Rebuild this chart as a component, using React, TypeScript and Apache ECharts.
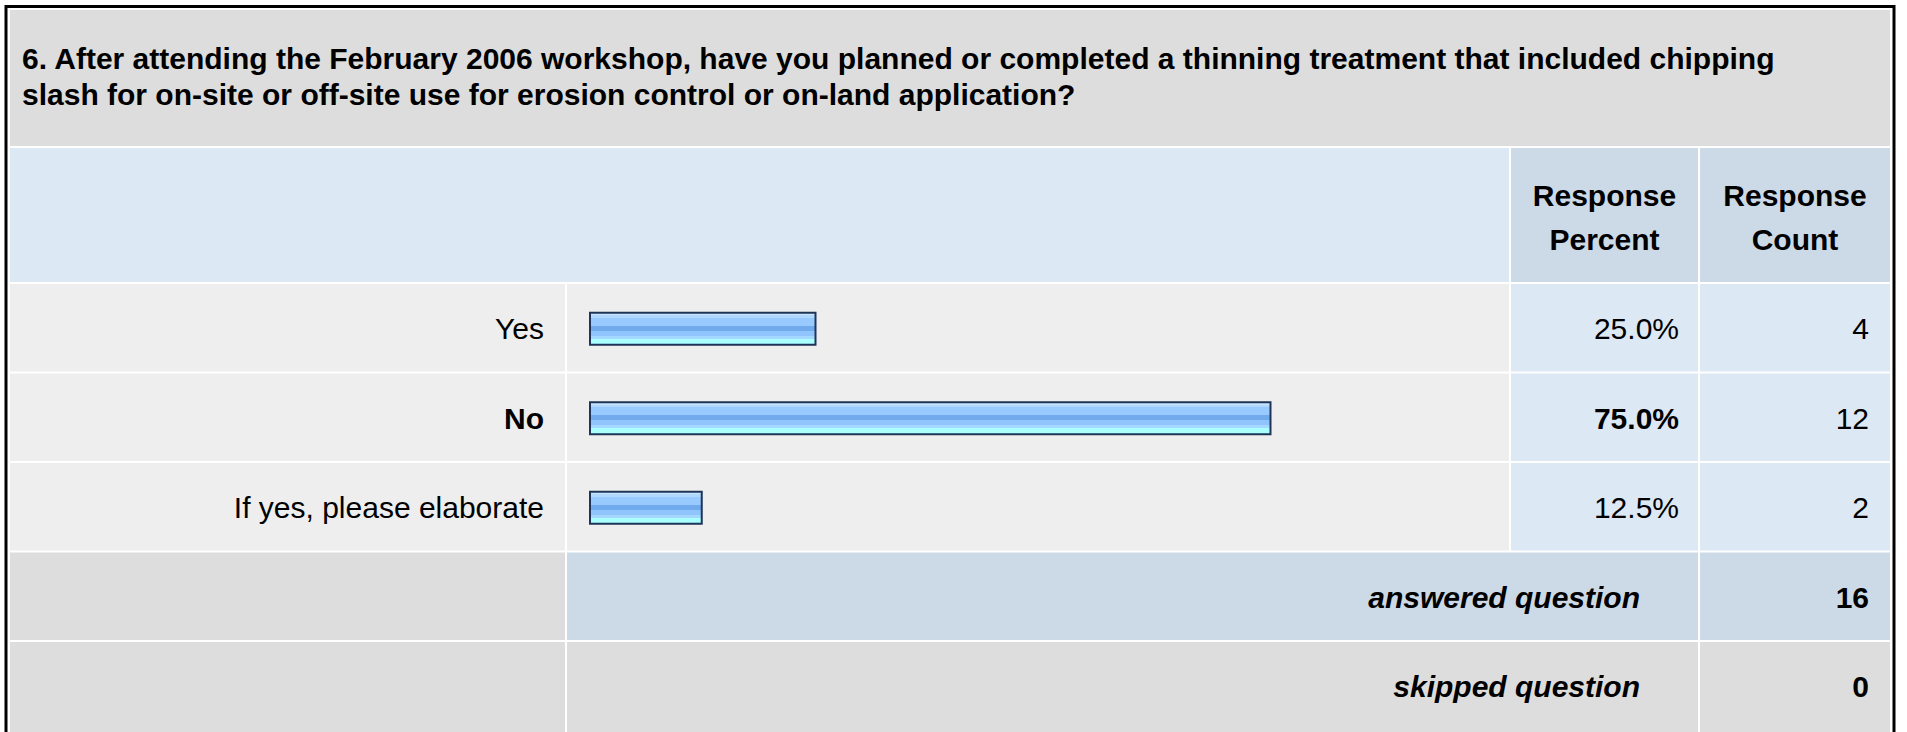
import React, { useEffect, useRef } from "react";
import * as echarts from "echarts";

const titleLines = [
  "6. After attending the February 2006 workshop, have you planned or completed a thinning treatment that included chipping",
  "slash for on-site or off-site use for erosion control or on-land application?",
];
const categories = ["Yes", "No", "If yes, please elaborate"];
const percents = [25.0, 75.0, 12.5];
const counts = [4, 12, 2];
const boldRow = 1;
const headerPercent = ["Response", "Percent"];
const headerCount = ["Response", "Count"];
const answeredLabel = "answered question";
const answeredCount = 16;
const skippedLabel = "skipped question";
const skippedCount = 0;

const W = 1907;
const H = 732;
const FONT = "Arial, 'Liberation Sans', sans-serif";
const FS = 30;

// layout (px)
const L = 10;
const R = 1890;
const colLabelEnd = 565;
const colBarStart = 567;
const colPctStart = 1511;
const colPctEnd = 1698;
const colCntStart = 1700;
const titleTop = 10;
const titleBottom = 146;
const headTop = 148;
const headBottom = 282;
const rowsTop = 284;
const rowH = 89.5;
const gap = 2;
const barX0 = 589;
const barX100 = 1499;

export default function App() {
  const ref = useRef<HTMLDivElement>(null);
  useEffect(() => {
    if (!ref.current) return;
    const chart = echarts.init(ref.current, undefined, { renderer: "svg" });
    const g: any[] = [];
    const rect = (x: number, y: number, w: number, h: number, fill: string) =>
      g.push({ type: "rect", shape: { x, y, width: w, height: h }, style: { fill }, silent: true, z: 0 });
    const text = (x: number, y: number, t: string, opts: any = {}) =>
      g.push({
        type: "text",
        x,
        y,
        style: {
          text: t,
          fill: "#000",
          font: `${opts.style || "normal"} ${opts.weight || "normal"} ${opts.size || FS}px ${FONT}`,
          align: opts.align || "left",
          verticalAlign: "middle",
        },
        silent: true,
        z: 5,
      });

    // outer border
    g.push({ type: "rect", shape: { x: 6, y: 6.5, width: 1888, height: 740 }, style: { fill: "#fff", stroke: "#000", lineWidth: 3 }, silent: true, z: 0 });
    // title
    rect(L, titleTop, R - L, titleBottom - titleTop, "#dddddd");
    text(22, 58, titleLines[0], { weight: "bold" });
    text(22, 94, titleLines[1], { weight: "bold" });
    // header
    rect(L, headTop, colPctStart - gap - L, headBottom - headTop, "#dde8f5");
    rect(colPctStart, headTop, colPctEnd - colPctStart, headBottom - headTop, "#ccd9e6");
    rect(colCntStart, headTop, R - colCntStart, headBottom - headTop, "#ccd9e6");
    text((colPctStart + colPctEnd) / 2, 195, headerPercent[0], { weight: "bold", align: "center" });
    text((colPctStart + colPctEnd) / 2, 239, headerPercent[1], { weight: "bold", align: "center" });
    text((colCntStart + R) / 2, 195, headerCount[0], { weight: "bold", align: "center" });
    text((colCntStart + R) / 2, 239, headerCount[1], { weight: "bold", align: "center" });

    categories.forEach((c, i) => {
      const y0 = rowsTop + i * rowH;
      const h = rowH - gap;
      const cy = y0 + h / 2 + 1;
      const b = i === boldRow ? "bold" : "normal";
      rect(L, y0, colLabelEnd - L, h, "#eeeeee");
      rect(colBarStart, y0, colPctStart - gap - colBarStart, h, "#eeeeee");
      rect(colPctStart, y0, colPctEnd - colPctStart, h, "#dde8f5");
      rect(colCntStart, y0, R - colCntStart, h, "#dde8f5");
      text(544, cy, c, { weight: b, align: "right" });
      text(1679, cy, percents[i].toFixed(1) + "%", { weight: b, align: "right" });
      text(1869, cy, String(counts[i]), { align: "right" });
    });

    const aTop = rowsTop + 3 * rowH;
    const aH = rowH - gap;
    rect(L, aTop, colLabelEnd - L, aH, "#dddddd");
    rect(colBarStart, aTop, colPctEnd - colBarStart, aH, "#ccd9e6");
    rect(colCntStart, aTop, R - colCntStart, aH, "#ccd9e6");
    text(1640, aTop + aH / 2 + 1, answeredLabel, { weight: "bold", style: "italic", align: "right" });
    text(1869, aTop + aH / 2 + 1, String(answeredCount), { weight: "bold", align: "right" });

    const sTop = aTop + rowH;
    rect(L, sTop, colLabelEnd - L, H - sTop, "#dddddd");
    rect(colBarStart, sTop, colPctEnd - colBarStart, H - sTop, "#dddddd");
    rect(colCntStart, sTop, R - colCntStart, H - sTop, "#dddddd");
    text(1640, sTop + aH / 2 + 1, skippedLabel, { weight: "bold", style: "italic", align: "right" });
    text(1869, sTop + aH / 2 + 1, String(skippedCount), { weight: "bold", align: "right" });

    const barFill = new echarts.graphic.LinearGradient(0, 0, 0, 1, [
      { offset: 0, color: "#c8e4ff" },
      { offset: 0.08, color: "#c8e4ff" },
      { offset: 0.08, color: "#b0d8ff" },
      { offset: 0.16, color: "#b0d8ff" },
      { offset: 0.16, color: "#98caff" },
      { offset: 0.4, color: "#98caff" },
      { offset: 0.4, color: "#72aaee" },
      { offset: 0.56, color: "#72aaee" },
      { offset: 0.56, color: "#90c4fc" },
      { offset: 0.72, color: "#90c4fc" },
      { offset: 0.72, color: "#a4d8ff" },
      { offset: 0.82, color: "#a4d8ff" },
      { offset: 0.82, color: "#aaffff" },
      { offset: 1, color: "#aaffff" },
    ]);

    chart.setOption({
      animation: false,
      grid: { left: barX0, width: barX100 - barX0, top: rowsTop, height: rowH * 3, containLabel: false },
      xAxis: { type: "value", min: 0, max: 100, show: false },
      yAxis: { type: "category", data: categories, inverse: true, show: false },
      series: [
        {
          type: "bar",
          data: percents,
          barWidth: 34,
          z: 10,
          itemStyle: { color: barFill, borderColor: "#1e3558", borderWidth: 2 },
          silent: true,
        },
      ],
      graphic: { elements: g },
    });
    return () => chart.dispose();
  }, []);
  return <div ref={ref} style={{ width: W, height: H, position: "absolute", left: 0, top: 0 }} />;
}
